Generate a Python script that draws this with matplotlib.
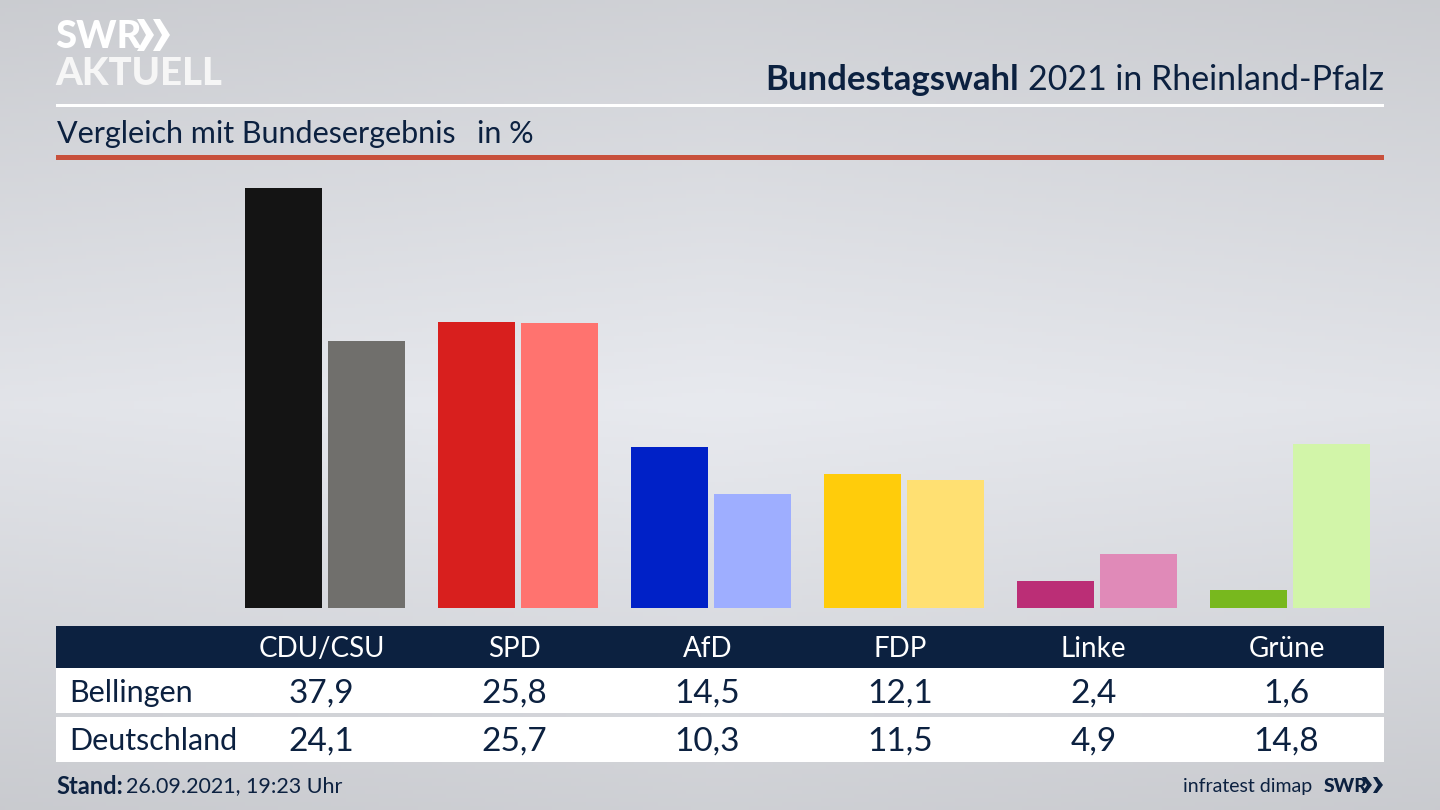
import numpy as np
import matplotlib
matplotlib.use("Agg")
import matplotlib.pyplot as plt
from matplotlib.patches import Polygon, Rectangle
from matplotlib.transforms import blended_transform_factory

# --- Data ---
parties = ['CDU/CSU', 'SPD', 'AfD', 'FDP', 'Linke', 'Grüne']
bellingen = [37.9, 25.8, 14.5, 12.1, 2.4, 1.6]
deutschland = [24.1, 25.7, 10.3, 11.5, 4.9, 14.8]
colors_local = ['#141414', '#d81f1e', '#0021c7', '#ffcc0b', '#bb2e76', '#78b81e']
colors_national = ['#706f6c', '#ff736f', '#9eaeff', '#ffe072', '#e08ab8', '#d2f5a9']
row_labels = ['Bellingen', 'Deutschland']

NAVY = '#0c2140'
plt.rcParams['font.family'] = ['Lato', 'DejaVu Sans']

fig = plt.figure(figsize=(14.4, 8.1), dpi=100)

# pixel overlay for background, rules and table bands
ov = fig.add_axes([0, 0, 1, 1])
ov.set_xlim(0, 1440)
ov.set_ylim(810, 0)
ov.axis('off')

# background gradient
yy = np.linspace(0, 1, 200)
xx = np.linspace(0, 1, 300)
v = np.interp(yy, [0, 0.5, 1], [0.815, 0.91, 0.81])
side = 1 - 0.025 * np.abs(xx - 0.5) * 2
bg = np.outer(v, side)
rgb = np.dstack([bg, bg * 1.008, bg * 1.03]).clip(0, 1)
ov.imshow(rgb, extent=(0, 1440, 810, 0), aspect='auto', zorder=0)

# rules
ov.add_patch(Rectangle((56, 104), 1328, 3, color='white', lw=0, zorder=1))
ov.add_patch(Rectangle((56, 155), 1328, 5, color='#c8503c', lw=0, zorder=1))

# table bands
ov.add_patch(Rectangle((56, 626), 1328, 42, color=NAVY, lw=0, zorder=1))
ov.add_patch(Rectangle((56, 668), 1328, 45, color='white', lw=0, zorder=1))
ov.add_patch(Rectangle((56, 717), 1328, 45, color='white', lw=0, zorder=1))

# bars: category 0 sits at 321.5 px, one category is 193 px
ax = fig.add_axes([56 / 1440, (810 - 608) / 810, 1328 / 1440, 448 / 810])
ax.set_xlim((56 - 321.5) / 193, (1384 - 321.5) / 193)
ax.set_ylim(0, 448 / 11.09)
ax.patch.set_alpha(0)
ax.axis('off')
x = np.arange(len(parties))
bar_w = 77 / 193
ax.bar(x - 38 / 193, bellingen, bar_w, color=colors_local)
ax.bar(x + 44.6 / 193, deutschland, bar_w, color=colors_national)

# table text, x from the bar axis, y in pixels
tr = blended_transform_factory(ax.transData, ov.transData)
for i, p in enumerate(parties):
    fig.text(i, 649, p, transform=tr, color='white', fontsize=20, ha='center', va='center')
    fig.text(i, 693.5, f'{bellingen[i]:.1f}'.replace('.', ','), transform=tr, color=NAVY,
             fontsize=24, ha='center', va='center')
    fig.text(i, 742, f'{deutschland[i]:.1f}'.replace('.', ','), transform=tr, color=NAVY,
             fontsize=24, ha='center', va='center')
ov.text(69.5, 693, row_labels[0], color=NAVY, fontsize=22, va='center')
ov.text(69.5, 741.5, row_labels[1], color=NAVY, fontsize=22, va='center')

# header
r = fig.canvas.get_renderer()
t = ov.text(1384, 80, '2021 in Rheinland-Pfalz', color=NAVY, fontsize=24.4, ha='right', va='center')
left = t.get_window_extent(r).x0
ov.text(left - 9, 80, 'Bundestagswahl', color=NAVY, fontsize=25, weight='bold', ha='right', va='center')
ov.text(57, 134, 'Vergleich mit Bundesergebnis', color=NAVY, fontsize=22, va='center')
ov.text(477, 134, 'in %', color=NAVY, fontsize=22, va='center')

# logo
ov.text(55, 37, 'SWR', color='white', fontsize=27.5, weight='black', va='center')
ov.text(55, 74, 'AKTUELL', color='#f6f6f6', fontsize=27.5, weight='black', va='center')
for x0 in (137, 153):
    ov.add_patch(Polygon([(x0, 19), (x0 + 7, 19), (x0 + 17, 35), (x0 + 7, 51), (x0, 51), (x0 + 9, 35)],
                         color='white', lw=0, zorder=2))

# footer
ov.text(56, 786.5, 'Stand:', color=NAVY, fontsize=17, weight='bold', va='center')
ov.text(126, 786.5, '26.09.2021, 19:23 Uhr', color=NAVY, fontsize=15.5, va='center')
ov.text(1312, 786.5, 'infratest dimap', color=NAVY, fontsize=14, ha='right', va='center')
ov.text(1324, 786, 'SWR', color=NAVY, fontsize=14, weight='black', va='center')
for x0 in (1362, 1373):
    ov.add_patch(Polygon([(x0, 777), (x0 + 4, 777), (x0 + 10, 785), (x0 + 4, 793), (x0, 793), (x0 + 5, 785)],
                         color=NAVY, lw=0, zorder=2))

fig.savefig('out.png', dpi=100)
